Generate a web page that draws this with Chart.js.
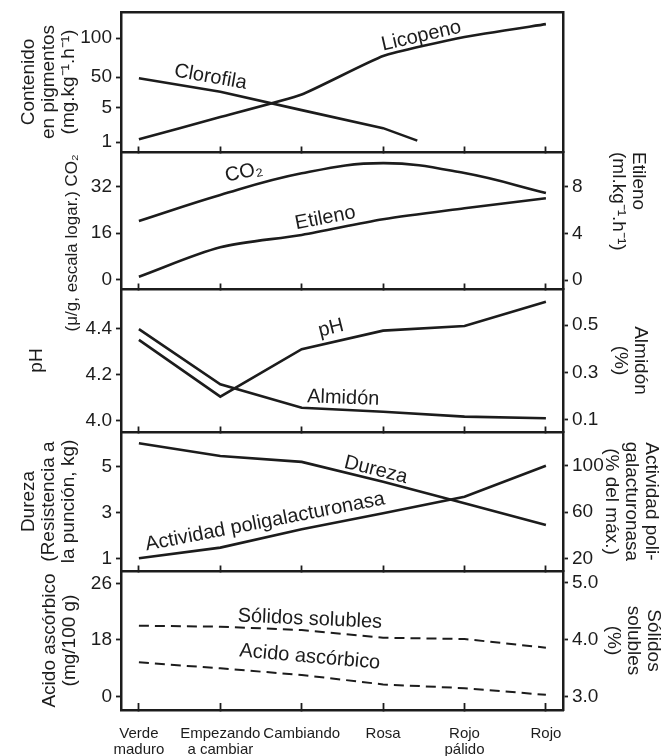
<!DOCTYPE html>
<html lang="es">
<head>
<meta charset="utf-8">
<title>Cambios durante la maduración</title>
<script src="https://cdn.jsdelivr.net/npm/chart.js@4.4.1/dist/chart.umd.min.js"></script>
<style>
  html, body { margin: 0; padding: 0; background: #fff; }
  #box { width: 668px; height: 756px; }
</style>
</head>
<body>
<div id="box"><canvas id="chart" width="668" height="756"></canvas></div>
<script>
const ink = '#1c1c1c';
const font = "'Liberation Sans', Arial, Helvetica, sans-serif";

// estados de madurez (eje x común)
const stages = [['Verde', 'maduro'], ['Empezando', 'a cambiar'], 'Cambiando', 'Rosa', ['Rojo', 'pálido'], 'Rojo'];
const stageX = [0, 1, 2, 3, 4, 5];

// panel 1: el eje del original no es regular, los valores son la posición sobre él
const pigTickPos = [0, 1, 1.875, 3];
const pigTickLabels = ['1', '5', '50', '100'];
const licopeno = [0.08, 0.72, 1.37, 2.48, 3.03, 3.4];
const clorofilaX = [0, 1, 2, 3, 3.42];
const clorofila = [1.84, 1.45, 0.92, 0.40, 0.04];

// panel 2
const co2Ticks = [0, 16, 32];
const co2 = [20.2, 29.1, 36.5, 40, 36.6, 29.8];
const etilenoTicks = [0, 4, 8];
const etileno = [0.28, 2.8, 3.86, 5.2, 6.14, 7.0];

// panel 3
const phTicks = [4.0, 4.2, 4.4];
const ph = [4.35, 4.105, 4.31, 4.39, 4.41, 4.515];
const almidonTicks = [0.1, 0.3, 0.5];
const almidon = [0.483, 0.249, 0.150, 0.133, 0.112, 0.105];

// panel 4
const durezaTicks = [1, 3, 5];
const dureza = [6.0, 5.45, 5.19, 4.33, 3.39, 2.45];
const pgTicks = [20, 60, 100];
const poligal = [20, 29.2, 45.1, 58.9, 73.2, 100];

// panel 5 (el original rotula 26 la marca de arriba)
const ascTicks = [0, 18, 36];
const ascTickLabels = ['0', '18', '26'];
const ascorbico = [10.9, 9.0, 6.9, 3.9, 2.7, 0.6];
const solTicks = [3, 4, 5];
const solidos = [4.246, 4.228, 4.17, 4.035, 4.012, 3.86];

// alto de cada panel (px)
const panelH = [140, 137, 143, 139, 139];

// rótulos sobre las curvas
const lineLabels = [
  {text: 'Licopeno', x: 3.47, y: 3.06, axis: 'y1L', angle: -13},
  {text: 'Clorofila', x: 0.88, y: 1.87, axis: 'y1L', angle: 10},
  {text: 'CO₂', x: 1.29, y: 36.8, axis: 'y2L', angle: -12},
  {text: 'Etileno', x: 2.29, y: 5.3, axis: 'y2R', angle: -11},
  {text: 'pH', x: 2.36, y: 4.40, axis: 'y3L', angle: -14},
  {text: 'Almidón', x: 2.51, y: 0.191, axis: 'y3R', angle: 2},
  {text: 'Dureza', x: 2.91, y: 4.84, axis: 'y4L', angle: 14},
  {text: 'Actividad poligalacturonasa', x: 1.55, y: 51.4, axis: 'y4R', angle: -11},
  {text: 'Sólidos solubles', x: 2.1, y: 4.36, axis: 'y5R', angle: 2.5},
  {text: 'Acido ascórbico', x: 2.1, y: 12.6, axis: 'y5L', angle: 5},
];

const line = (label, xs, ys, yAxisID, extra = {}) => ({
  label, yAxisID, xAxisID: 'x',
  data: xs.map((x, i) => ({x, y: ys[i]})),
  borderColor: ink, borderWidth: 2.6, pointRadius: 0, tension: 0, fill: false,
  ...extra
});

const dashed = {borderDash: [10, 6], borderWidth: 2};
const datasets = [
  line('Licopeno', stageX, licopeno, 'y1L', {tension: 0.15}),
  line('Clorofila', clorofilaX, clorofila, 'y1L'),
  line('CO2', stageX, co2, 'y2L', {tension: 0.4}),
  line('Etileno', stageX, etileno, 'y2R', {tension: 0.3}),
  line('pH', stageX, ph, 'y3L'),
  line('Almidón', stageX, almidon, 'y3R'),
  line('Dureza', stageX, dureza, 'y4L'),
  line('Actividad poligalacturonasa', stageX, poligal, 'y4R'),
  line('Acido ascórbico', stageX, ascorbico, 'y5L', dashed),
  line('Sólidos solubles', stageX, solidos, 'y5R', dashed),
];

function xAxis(position, showLabels, drawTicks) {
  return {
    axis: 'x', type: 'linear', position, min: -0.22, max: 5.21,
    afterBuildTicks: s => { s.ticks = stageX.map(v => ({value: v})); },
    afterFit: s => { s.height = showLabels ? 46 : 0; s.paddingLeft = 0; s.paddingRight = 0; },
    ticks: {
      display: showLabels, autoSkip: false, maxRotation: 0, color: ink, padding: 22,
      font: {family: font, size: 15, lineHeight: 1.12},
      callback: (v, i) => stages[i]
    },
    grid: {drawOnChartArea: false, drawTicks, tickLength: -7, tickColor: ink, tickWidth: 1.8},
    border: {color: ink, width: 2.5}
  };
}

function yAxis(side, panel, min, max, tickVals, tickLabels, title, titlePad, align) {
  const axis = {
    axis: 'y', type: 'linear', position: side, stack: side,
    stackWeight: panelH[panel], weight: side === 'left' ? 5 - panel : panel + 1,
    min, max,
    afterFit: s => { s.width = side === 'left' ? 121 : 105; s.paddingTop = 0; s.paddingBottom = 0; },
    ticks: {display: !!tickVals, autoSkip: false, color: ink, padding: 4, font: {family: font, size: 19}},
    grid: {drawOnChartArea: false, drawTicks: !!tickVals, tickLength: 5, tickColor: ink, tickWidth: 1.8},
    border: {color: ink, width: 2.5},
    title: {
      display: !!title, text: title || '', color: ink, align: align || 'center',
      font: {family: font, size: 19, lineHeight: 20 / 19},
      padding: {top: titlePad, bottom: 0}
    }
  };
  if (tickVals) {
    axis.afterBuildTicks = s => { s.ticks = tickVals.map(v => ({value: v})); };
    axis.ticks.callback = (v, i) => tickLabels[i];
  }
  return axis;
}

const notesPlugin = {
  id: 'notes',
  afterDatasetsDraw(chart) {
    const ctx = chart.ctx;
    ctx.save();
    ctx.fillStyle = ink;
    ctx.textAlign = 'center';
    ctx.textBaseline = 'middle';
    for (const n of lineLabels) {
      const px = chart.scales.x.getPixelForValue(n.x);
      const py = chart.scales[n.axis].getPixelForValue(n.y);
      ctx.save();
      ctx.translate(px, py);
      ctx.rotate(n.angle * Math.PI / 180);
      ctx.font = '20px ' + font;
      ctx.fillText(n.text, 0, 0);
      ctx.restore();
    }
    // el título del eje de CO2 es más largo que su panel, se dibuja aparte
    const s = chart.scales.y2L;
    ctx.save();
    ctx.translate(s.left + 72, s.getPixelForValue(12.7));
    ctx.rotate(-Math.PI / 2);
    ctx.font = '17px ' + font;
    ctx.fillText('(μ/g, escala logar.) CO₂', 0, 0);
    ctx.restore();
    ctx.restore();
  }
};

Chart.defaults.font.family = font;
Chart.defaults.color = ink;

new Chart(document.getElementById('chart'), {
  type: 'line',
  data: {datasets},
  plugins: [notesPlugin],
  options: {
    responsive: false,
    animation: false,
    devicePixelRatio: 1,
    layout: {padding: {left: 0, right: 0, top: 12, bottom: 0}},
    plugins: {legend: {display: false}, tooltip: {enabled: false}},
    scales: {
      x: xAxis('bottom', true, true),
      xTop: xAxis({y1L: 3.75}, false, false),
      xS1: xAxis({y1L: -0.288}, false, true),
      xS2: xAxis({y2L: -3.08}, false, true),
      xS3: xAxis({y3L: 3.9525}, false, true),
      xS4: xAxis({y4L: 0.448}, false, true),

      y1L: yAxis('left', 0, -0.288, 3.75, pigTickPos, pigTickLabels, ['Contenido', 'en pigmentos', '(mg.kg⁻¹.h⁻¹)'], 19),
      y2L: yAxis('left', 1, -3.08, 43.8, co2Ticks, co2Ticks.map(String), null, 0),
      y3L: yAxis('left', 2, 3.9525, 4.5697, phTicks, phTicks.map(v => v.toFixed(1)), 'pH', 27),
      y4L: yAxis('left', 3, 0.448, 6.49, durezaTicks, durezaTicks.map(String), ['Dureza', '(Resistencia a', 'la punción, kg)'], 19),
      y5L: yAxis('left', 4, -4.22, 39.9, ascTicks, ascTickLabels, ['Acido ascórbico', '(mg/100 g)'], 40),

      y1R: yAxis('right', 0, 0, 1, null, null, null, 0),
      y2R: yAxis('right', 1, -0.77, 10.96, etilenoTicks, etilenoTicks.map(String), ['Etileno', '(ml.kg⁻¹.h⁻¹)'], 20, 'end'),
      y3R: yAxis('right', 2, 0.047, 0.6534, almidonTicks, almidonTicks.map(v => v.toFixed(1)), ['Almidón', '(%)'], 18),
      y4R: yAxis('right', 3, 9.0, 129.2, pgTicks, pgTicks.map(String), ['Actividad poli-', 'galacturonasa', '(% del máx.)'], 7),
      y5R: yAxis('right', 4, 2.767, 5.205, solTicks, solTicks.map(v => v.toFixed(1)), ['Sólidos', 'solubles', '(%)'], 5),
    }
  }
});
</script>
</body>
</html>
